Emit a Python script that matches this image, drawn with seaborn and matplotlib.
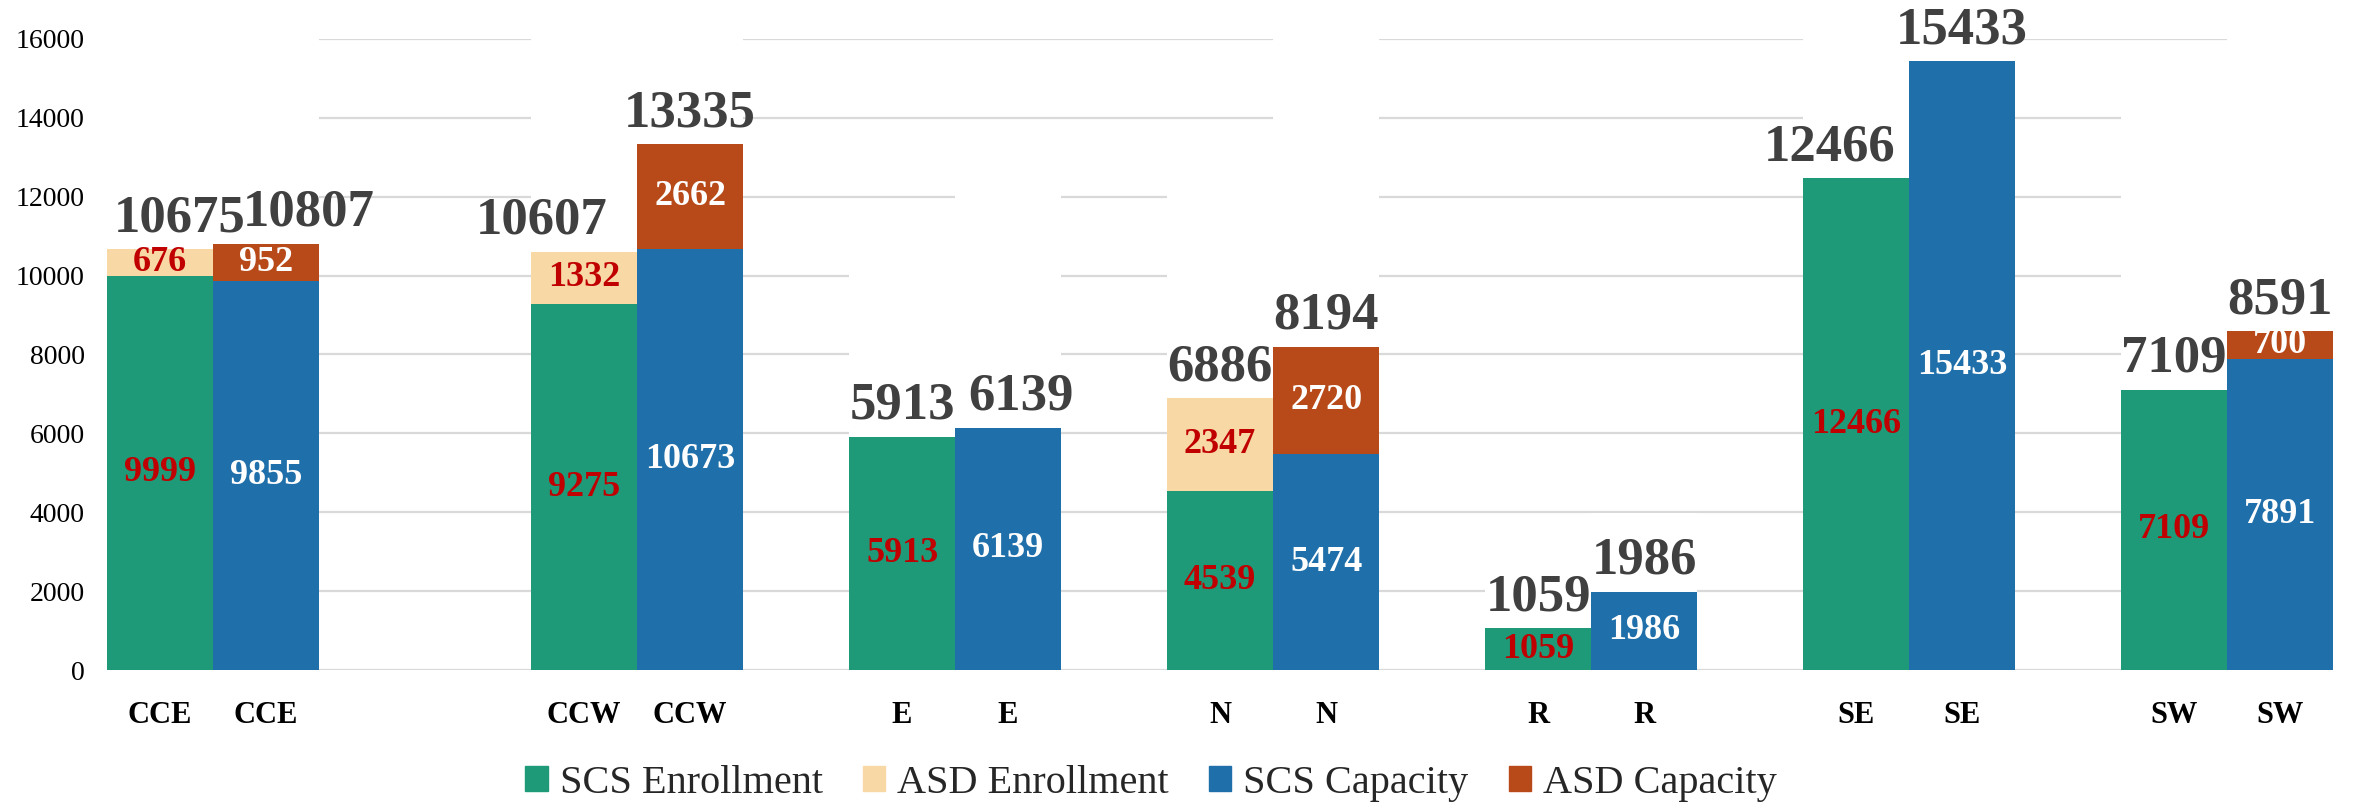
import matplotlib
matplotlib.use("Agg")
import matplotlib.pyplot as plt
import matplotlib.patches as mpatches
import pandas as pd
import seaborn as sns

# data
regions = ["CCE", "CCW", "E", "N", "R", "SE", "SW"]
scs_enrollment = [9999, 9275, 5913, 4539, 1059, 12466, 7109]
asd_enrollment = [676, 1332, 0, 2347, 0, 0, 0]
scs_capacity = [9855, 10673, 6139, 5474, 1986, 15433, 7891]
asd_capacity = [952, 2662, 0, 2720, 0, 0, 700]
# x axis slots as in the source sheet (blank rows leave gaps)
slot_labels = ["CCE", "CCE", "", "", "CCW", "CCW", "", "E", "E", "", "N", "N", "",
               "R", "R", "", "SE", "SE", "", "SW", "SW"]

# styling
GREEN, PEACH, BLUE, RUST = "#1E9A78", "#F8D8A5", "#1F6FAA", "#B84A1A"
RED, DARK = "#C00000", "#404040"
# sideways nudges of a few crowded total labels (in slot widths)
total_shift = {("CCE", "Enrollment"): 0.18, ("CCE", "Capacity"): 0.40,
               ("CCW", "Enrollment"): -0.40, ("SE", "Enrollment"): -0.25,
               ("E", "Capacity"): 0.12}

# build a long table: one row per drawn bar
rows = []
k = 0
for i, lab in enumerate(slot_labels):
    if not lab:
        continue
    r = regions.index(lab)
    kind = "Enrollment" if k % 2 == 0 else "Capacity"
    k += 1
    if kind == "Enrollment":
        base, extra = scs_enrollment[r], asd_enrollment[r]
    else:
        base, extra = scs_capacity[r], asd_capacity[r]
    rows.append(dict(slot=str(i), pos=i, region=lab, kind=kind,
                     base=base, extra=extra, total=base + extra))
df = pd.DataFrame(rows)
# Excel-style hidden "total" series stacked on top (white), carries the total labels
df["ghost"] = df["total"] * 2
order = [str(i) for i in range(len(slot_labels))]

sns.set_theme(style="white")
plt.rcParams["font.family"] = ["Liberation Serif", "DejaVu Serif"]

fig, ax = plt.subplots(figsize=(23.54, 8.1), dpi=100)
fig.subplots_adjust(left=0.0455, right=0.9911, bottom=0.1728, top=0.9519)

common = dict(data=df, x="slot", order=order, width=1.0, saturation=1,
              errorbar=None, linewidth=0, ax=ax)
sns.barplot(y="ghost", color="white", **common)
sns.barplot(y="total", hue="kind", palette={"Enrollment": PEACH, "Capacity": RUST},
            dodge=False, legend=False, **common)
sns.barplot(y="base", hue="kind", palette={"Enrollment": GREEN, "Capacity": BLUE},
            dodge=False, legend=False, **common)

for _, row in df.iterrows():
    col = RED if row.kind == "Enrollment" else "white"
    ax.text(row.pos, row.base / 2, f"{row.base}", ha="center", va="center",
            color=col, fontsize=26, fontweight="bold")
    if row.extra > 0:
        ax.text(row.pos, row.base + row.extra / 2, f"{row.extra}", ha="center",
                va="center", color=col, fontsize=26, fontweight="bold")
    dx = total_shift.get((row.region, row.kind), 0)
    ax.annotate(f"{row.total}", (row.pos + dx, row.total), xytext=(0, 5),
                textcoords="offset points", ha="center", va="bottom",
                color=DARK, fontsize=38, fontweight="bold", annotation_clip=False)

ax.set_ylim(0, 16000)
ax.set_yticks(range(0, 16001, 2000))
ax.yaxis.grid(True, color="#D9D9D9", linewidth=1.6)
ax.set_axisbelow(True)
for s in ax.spines.values():
    s.set_visible(False)
ax.set_xticks(range(len(slot_labels)))
ax.set_xticklabels(slot_labels, fontweight="bold", fontsize=22)
ax.tick_params(axis="x", length=0, pad=22, colors="black")
ax.tick_params(axis="y", length=0, pad=16, labelsize=20, colors="black")
ax.set_xlabel("")
ax.set_ylabel("")

handles = [mpatches.Patch(color=c, label=l) for c, l in
           [(GREEN, "SCS Enrollment"), (PEACH, "ASD Enrollment"),
            (BLUE, "SCS Capacity"), (RUST, "ASD Capacity")]]
fig.legend(handles=handles, loc="center", bbox_to_anchor=(0.489, 0.033), ncol=4,
           frameon=False, fontsize=29, handlelength=0.55, handleheight=0.55,
           handletextpad=0.3, columnspacing=1.0)

fig.savefig("out.png", dpi=100)
